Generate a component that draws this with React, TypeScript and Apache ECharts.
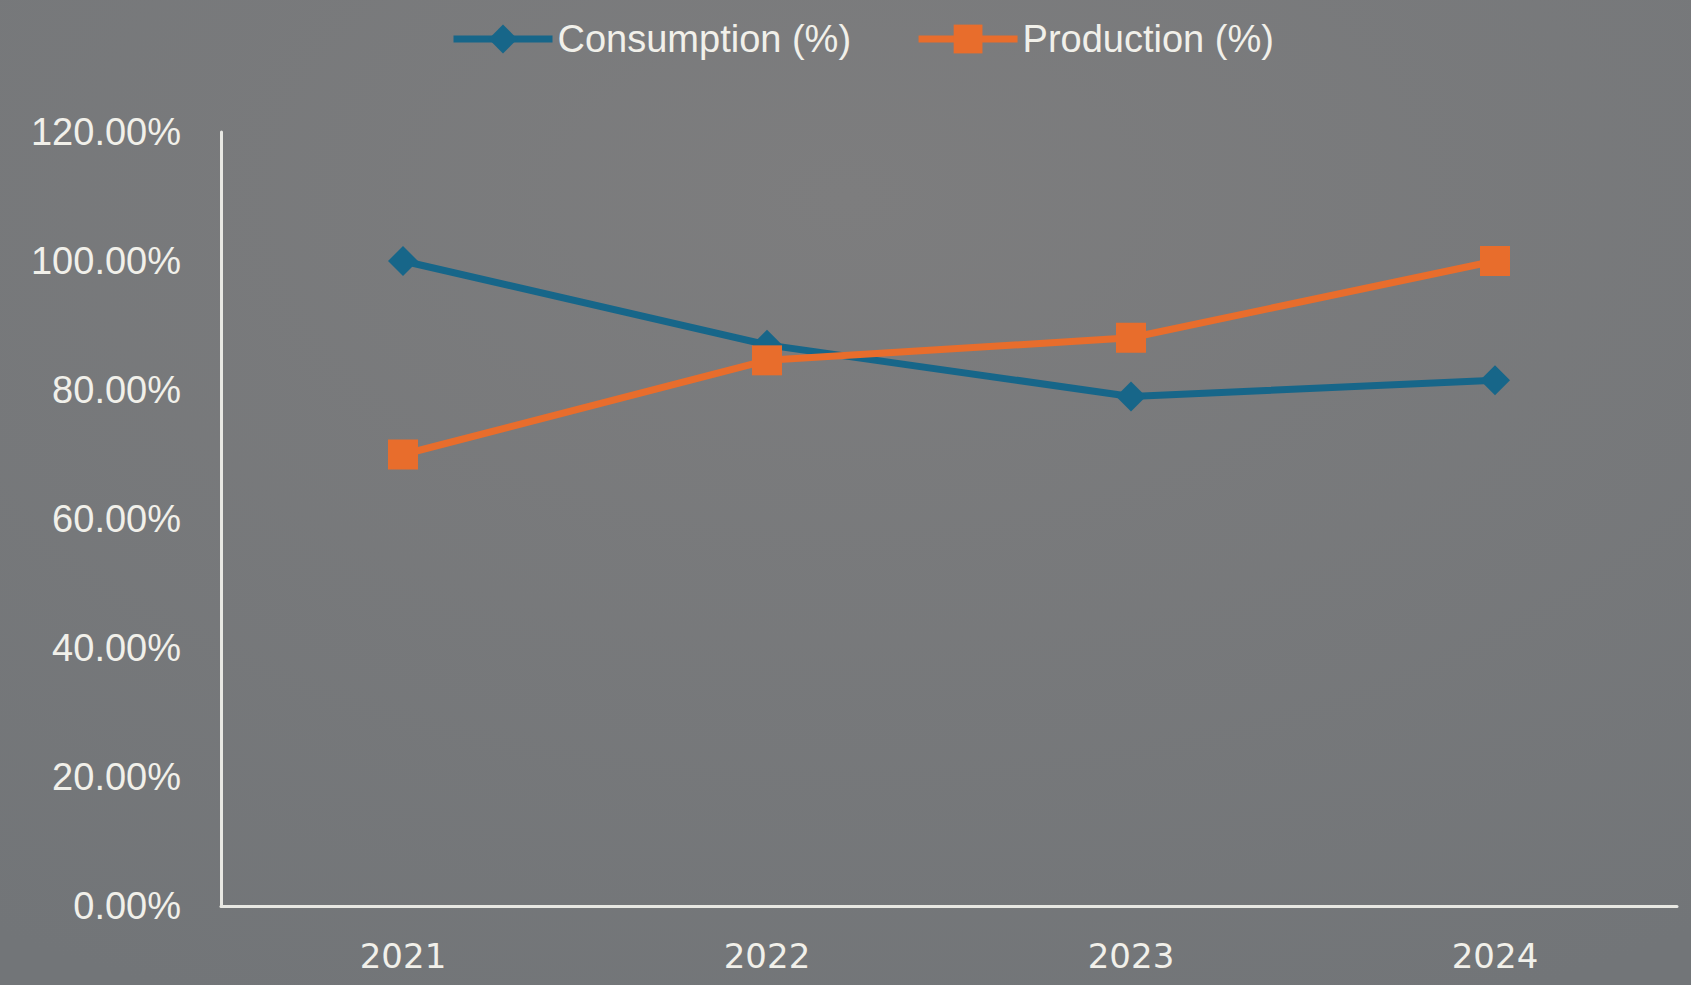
import React, { useEffect, useRef } from "react";
import * as echarts from "echarts";

const categories = ["2021", "2022", "2023", "2024"];
const consumption = [100.0, 87.0, 79.0, 81.5];
const production = [70.0, 84.6, 88.1, 100.0];
const seriesNames = ["Consumption (%)", "Production (%)"];

export default function App() {
  const ref = useRef<HTMLDivElement>(null);
  useEffect(() => {
    if (!ref.current) return;
    const chart = echarts.init(ref.current, undefined, { renderer: "svg" });
    const textColor = "#f1f0ea";
    chart.setOption({
      animation: false,
      backgroundColor: {
        type: "radial",
        x: 0.5,
        y: 0.2,
        r: 0.9,
        colorStops: [
          { offset: 0, color: "#7d7d7e" },
          { offset: 1, color: "#727578" },
        ],
      },
      legend: {
        data: seriesNames,
        left: 445,
        top: 15,
        itemWidth: 99,
        itemHeight: 36,
        itemGap: 64,
        lineStyle: { width: 7 },
        textStyle: {
          color: textColor,
          fontSize: 38,
          fontFamily: "Liberation Sans",
        },
      },
      grid: { left: 221, right: 14, top: 132, bottom: 79, containLabel: false },
      xAxis: {
        type: "category",
        data: categories,
        boundaryGap: true,
        axisLine: { show: true, lineStyle: { color: "#e8e8e3", width: 3 } },
        axisTick: { show: false },
        axisLabel: {
          color: textColor,
          fontSize: 34,
          margin: 33,
          fontFamily: "DejaVu Sans",
        },
        splitLine: { show: false },
      },
      yAxis: {
        type: "value",
        min: 0,
        max: 120,
        interval: 20,
        axisLine: { show: true, lineStyle: { color: "#e8e8e3", width: 3 } },
        axisTick: { show: false },
        splitLine: { show: false },
        axisLabel: {
          color: textColor,
          fontSize: 38,
          margin: 40,
          fontFamily: "Liberation Sans",
          formatter: (v: number) => v.toFixed(2) + "%",
        },
      },
      series: [
        {
          name: seriesNames[0],
          type: "line",
          data: consumption,
          symbol: "diamond",
          symbolSize: 30,
          color: "#176689",
          lineStyle: { width: 7, color: "#176689" },
          itemStyle: { color: "#176689" },
          z: 2,
        },
        {
          name: seriesNames[1],
          type: "line",
          data: production,
          symbol: "rect",
          symbolSize: 30,
          color: "#e86d2c",
          lineStyle: { width: 7, color: "#e86d2c" },
          itemStyle: { color: "#e86d2c" },
          z: 3,
        },
      ],
    });
    return () => chart.dispose();
  }, []);
  return (
    <div
      ref={ref}
      style={{ position: "absolute", left: 0, top: 0, width: 1691, height: 985 }}
    />
  );
}
